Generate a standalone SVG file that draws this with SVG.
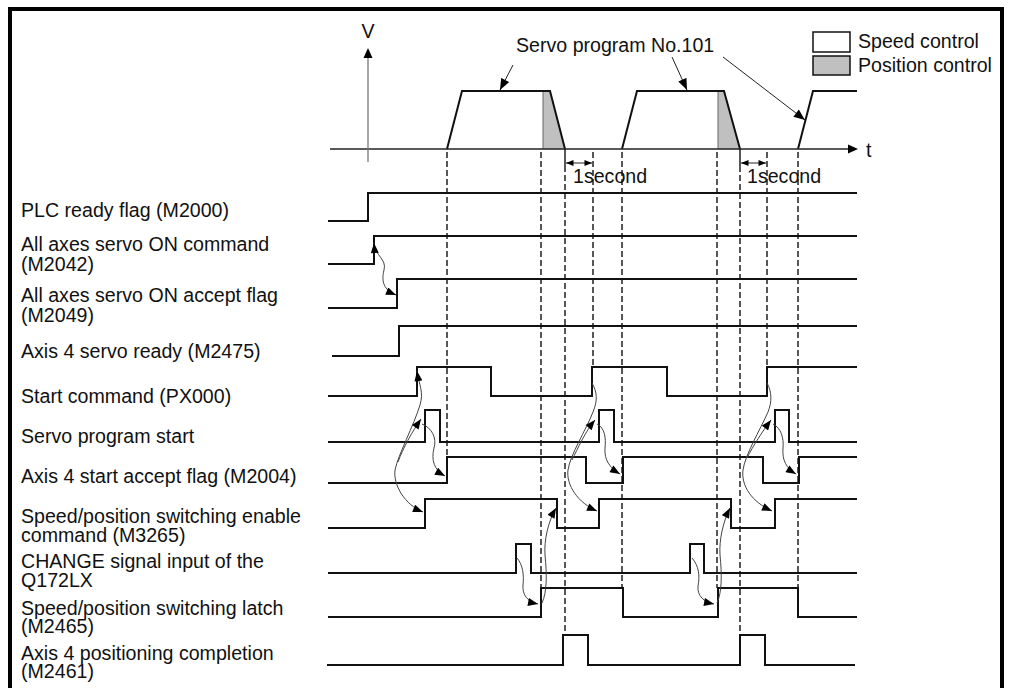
<svg xmlns="http://www.w3.org/2000/svg" width="1009" height="688" viewBox="0 0 1009 688">
<style>
text{font-family:"Liberation Sans",Arial,sans-serif;font-size:19.6px;fill:#111}
.sig{fill:none;stroke:#111;stroke-width:2;stroke-linejoin:miter}
.dash{fill:none;stroke:#111;stroke-width:1.4;stroke-dasharray:6,3}
.cv{fill:none;stroke:#444;stroke-width:1}
.ln{fill:none;stroke:#222;stroke-width:1}
.trap{fill:none;stroke:#111;stroke-width:2}
.pos{fill:#c0c0c0;stroke:none}
</style>
<defs>
<marker id="ah" viewBox="0 0 10 8" refX="10" refY="4" markerWidth="11" markerHeight="8" markerUnits="userSpaceOnUse" orient="auto-start-reverse"><path d="M0,0L10,4L0,8z" fill="#000"/></marker>
<marker id="ahs" viewBox="0 0 10 8" refX="10" refY="4" markerWidth="8" markerHeight="6" markerUnits="userSpaceOnUse" orient="auto-start-reverse"><path d="M0,0L10,4L0,8z" fill="#000"/></marker>
<marker id="ahb" viewBox="0 0 10 8" refX="10" refY="4" markerWidth="12" markerHeight="9" markerUnits="userSpaceOnUse" orient="auto-start-reverse"><path d="M0,0L10,4L0,8z" fill="#000"/></marker>
</defs>
<rect width="1009" height="688" fill="#fff"/>
<path d="M10,700V9H1002V700" fill="none" stroke="#000" stroke-width="4"/>

<g id="chart">
<polygon class="pos" points="543,91 550,91 565,149 543,149"/>
<polygon class="pos" points="718,91 724,91 740,149 718,149"/>
<line x1="543" y1="91" x2="543" y2="149" stroke="#666" stroke-width="1"/>
<line x1="718" y1="91" x2="718" y2="149" stroke="#666" stroke-width="1"/>
<path class="trap" d="M447,149L462,91H550L565,149"/>
<path class="trap" d="M622,149L637,91H724L740,149"/>
<path class="trap" d="M798,149L813,91H857"/>
<line x1="330" y1="149" x2="848" y2="149" stroke="#222" stroke-width="1.3"/>
<polygon points="848,144.5 858,149 848,153.5" fill="#000"/>
<line x1="368" y1="162" x2="368" y2="57" stroke="#777" stroke-width="1.3"/>
<polygon points="363.5,58 368,48 372.5,58" fill="#000"/>
<text x="368" y="38" text-anchor="middle">V</text>
<text x="866" y="157">t</text>
<text x="516" y="52">Servo program No.101</text>
</g>

<g id="legend">
<rect x="813" y="32" width="37" height="20" fill="#fff" stroke="#111" stroke-width="1.5"/>
<rect x="813" y="56" width="37" height="19" fill="#c0c0c0" stroke="#111" stroke-width="1.5"/>
<text x="858" y="48">Speed control</text>
<text x="858" y="72">Position control</text>
</g>

<g id="dimensions">
<line x1="565" y1="149" x2="565" y2="166" stroke="#111" stroke-width="1.4"/>
<line x1="740" y1="149" x2="740" y2="166" stroke="#111" stroke-width="1.4"/>
<line class="ln" x1="566" y1="163" x2="592" y2="163" marker-start="url(#ahs)" marker-end="url(#ahs)"/>
<line class="ln" x1="741" y1="163" x2="766" y2="163" marker-start="url(#ahs)" marker-end="url(#ahs)"/>
<text x="573" y="183">1second</text>
<text x="747" y="183">1second</text>
</g>

<g id="guides">
<line class="dash" x1="447" y1="152" x2="447" y2="457"/>
<line class="dash" x1="541" y1="152" x2="541" y2="588"/>
<line class="dash" x1="565" y1="166" x2="565" y2="635"/>
<line class="dash" x1="593" y1="152" x2="593" y2="367"/>
<line class="dash" x1="622" y1="152" x2="622" y2="588"/>
<line class="dash" x1="717" y1="152" x2="717" y2="588"/>
<line class="dash" x1="740" y1="166" x2="740" y2="635"/>
<line class="dash" x1="767" y1="152" x2="767" y2="367"/>
<line class="dash" x1="798" y1="152" x2="798" y2="588"/>
</g>

<g id="row-plc-ready">
<text x="21" y="217">PLC ready flag (M2000)</text>
<path class="sig" d="M328,221H368V193H857"/>
</g>
<g id="row-servo-on-command">
<text x="21" y="251">All axes servo ON command</text>
<text x="21" y="271">(M2042)</text>
<path class="sig" d="M328,264H374V236H857"/>
</g>
<g id="row-servo-on-accept">
<text x="21" y="302">All axes servo ON accept flag</text>
<text x="21" y="322">(M2049)</text>
<path class="sig" d="M328,308H397V279H857"/>
</g>
<g id="row-servo-ready">
<text x="21" y="358">Axis 4 servo ready (M2475)</text>
<path class="sig" d="M332,356H399V326H857"/>
</g>
<g id="row-start-command">
<text x="21" y="403">Start command (PX000)</text>
<path class="sig" d="M328,396H417V367H491V396H592V367H667V396H767V367H857"/>
</g>
<g id="row-servo-program-start">
<text x="21" y="443">Servo program start</text>
<path class="sig" d="M328,442H425V410H440V442H599V410H614V442H775V410H789V442H857"/>
</g>
<g id="row-start-accept">
<text x="21" y="483">Axis 4 start accept flag (M2004)</text>
<path class="sig" d="M328,483H447V457H586V483H623V457H763V483H799V457H857"/>
</g>
<g id="row-switch-enable">
<text x="21" y="523">Speed/position switching enable</text>
<text x="21" y="542">command (M3265)</text>
<path class="sig" d="M328,528H425V499H557V528H599V499H731V528H775V499H857"/>
</g>
<g id="row-change">
<text x="21" y="568">CHANGE signal input of the</text>
<text x="21" y="587">Q172LX</text>
<path class="sig" d="M328,573H516V544H531V573H690V544H704V573H857"/>
</g>
<g id="row-latch">
<text x="21" y="615">Speed/position switching latch</text>
<text x="21" y="633">(M2465)</text>
<path class="sig" d="M328,617H541V588H623V617H718V588H798V617H857"/>
</g>
<g id="row-completion">
<text x="21" y="660">Axis 4 positioning completion</text>
<text x="21" y="678">(M2461)</text>
<path class="sig" d="M327,665H563V635H588V665H740V635H765V665H855"/>
</g>

<g id="connectors">
<line class="ln" x1="513" y1="65" x2="500" y2="90" marker-end="url(#ahb)"/>
<line class="ln" x1="672" y1="57" x2="687" y2="90" marker-end="url(#ahb)"/>
<line class="ln" x1="723" y1="57" x2="805" y2="120" marker-end="url(#ahb)"/>
<path class="cv" d="M374,243C375,256 387,259 384,270C381,282 384,290 396,295" marker-start="url(#ah)" marker-end="url(#ah)"/>
<path class="cv" d="M417,371C419,385 424,392 420,405C414,425 398,455 395,470C393,485 405,505 423,512" marker-start="url(#ah)" marker-end="url(#ah)"/>
<path class="cv" d="M398,462C403,448 412,432 421,419" marker-end="url(#ah)"/>
<path class="cv" d="M422,424C432,428 437,438 434,448C431,460 434,470 445,476" marker-end="url(#ah)"/>
<path class="cv" d="M592,383C597,392 598,400 593,412C586,430 570,455 568,470C566,485 578,503 597,511" marker-end="url(#ah)"/>
<path class="cv" d="M572,460C578,448 585,432 595,420" marker-end="url(#ah)"/>
<path class="cv" d="M597,424C605,428 606,438 605,448C604,460 610,468 620,474" marker-end="url(#ah)"/>
<path class="cv" d="M767,383C772,392 772,402 768,412C760,430 745,455 743,470C741,486 752,502 772,511" marker-end="url(#ah)"/>
<path class="cv" d="M747,458C753,446 762,432 771,420" marker-end="url(#ah)"/>
<path class="cv" d="M773,424C781,428 784,438 783,448C782,460 786,468 796,474" marker-end="url(#ah)"/>
<path class="cv" d="M517,558C523,565 524,575 523,585C522,595 528,602 538,604" marker-end="url(#ah)"/>
<path class="cv" d="M542,603C547,592 547,575 545,555C544,540 548,522 556,508" marker-end="url(#ah)"/>
<path class="cv" d="M692,558C699,566 700,576 698,586C697,596 704,602 714,604" marker-end="url(#ah)"/>
<path class="cv" d="M717,603C722,592 722,575 720,555C719,540 723,522 730,508" marker-end="url(#ah)"/>
</g>
</svg>
